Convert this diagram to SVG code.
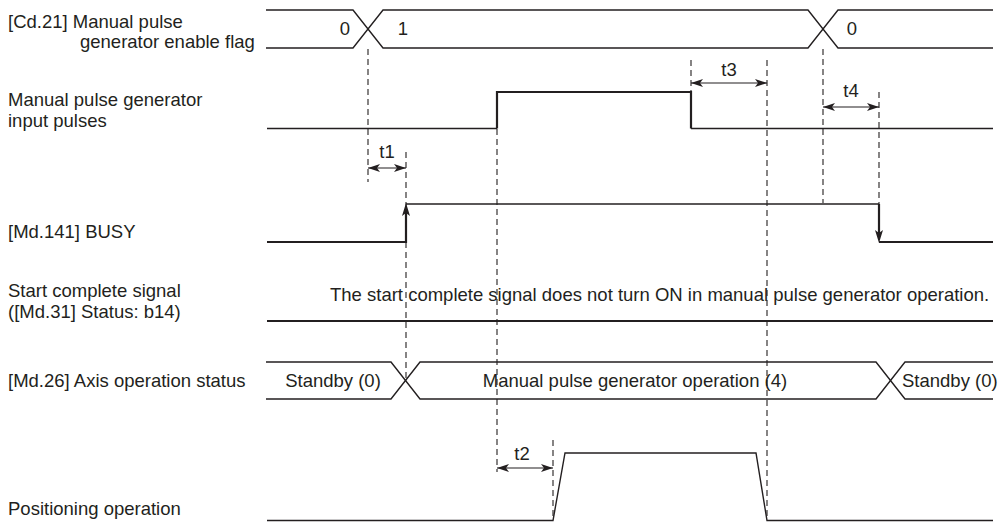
<svg xmlns="http://www.w3.org/2000/svg" width="999" height="523" viewBox="0 0 999 523">
<style>
text{font-family:"Liberation Sans",Arial,sans-serif;font-size:18.5px;fill:#231f20}
.sig{fill:none;stroke:#231f20;stroke-width:1.4}
.thick{fill:none;stroke:#231f20;stroke-width:2.2}
.dash{fill:none;stroke:#231f20;stroke-width:1.1;stroke-dasharray:6 4}
.dim{fill:none;stroke:#231f20;stroke-width:1.2;marker-start:url(#ah);marker-end:url(#ah)}
.mid{text-anchor:middle}
</style>
<defs>
<marker id="ah" viewBox="0 0 12 8" refX="12" refY="4" markerWidth="12" markerHeight="8" markerUnits="userSpaceOnUse" orient="auto-start-reverse">
<path d="M0,0 L12,4 L0,8 L3,4 z" fill="#231f20"/>
</marker>
</defs>
<rect width="999" height="523" fill="#fff"/>

<g id="enable-flag">
<text x="8" y="28">[Cd.21] Manual pulse</text>
<text x="80" y="48">generator enable flag</text>
<path class="sig" d="M266,10 H353 L383,48 H808 L838,10 H993"/>
<path class="sig" d="M266,48 H353 L383,10 H808 L838,48 H993"/>
<text class="mid" x="345" y="35">0</text>
<text class="mid" x="403" y="35">1</text>
<text class="mid" x="852" y="35">0</text>
</g>

<g id="input-pulses">
<text x="8" y="106">Manual pulse generator</text>
<text x="8" y="127">input pulses</text>
<path class="sig" d="M267,128.5 H497"/>
<path class="thick" d="M497,128.5 V92 H691 V128.5"/>
<path class="sig" d="M691,128.5 H993"/>
</g>

<g id="busy">
<text x="8" y="238">[Md.141] BUSY</text>
<path class="thick" d="M267,242 H406 V210"/>
<path class="sig" d="M406,204 H879"/>
<path class="thick" d="M879,204 V236"/>
<path class="thick" d="M879,242 H993"/>
<path d="M406,203 L410,216 L406,213 L402,216 z" fill="#231f20"/>
<path d="M879,243 L875,230 L879,233 L883,230 z" fill="#231f20"/>
</g>

<g id="start-complete">
<text x="8" y="297">Start complete signal</text>
<text x="8" y="318">([Md.31] Status: b14)</text>
<text x="330" y="301">The start complete signal does not turn ON in manual pulse generator operation.</text>
<path class="thick" d="M267,321 H993"/>
</g>

<g id="axis-status">
<text x="8" y="387">[Md.26] Axis operation status</text>
<path class="sig" d="M266,362 H391 L420,399 H876 L905,362 H993"/>
<path class="sig" d="M266,399 H391 L420,362 H876 L905,399 H993"/>
<text class="mid" x="333" y="387">Standby (0)</text>
<text class="mid" x="635" y="387">Manual pulse generator operation (4)</text>
<text x="902" y="387">Standby (0)</text>
</g>

<g id="positioning">
<text x="8" y="515">Positioning operation</text>
<path class="sig" d="M267,520.5 H553 L565,453 H756 L767,520.5 H993"/>
</g>

<g id="connectors">
<path class="dash" d="M368,49 V182"/>
<path class="dash" d="M406,152 V381"/>
<path class="dash" d="M497,129 V472"/>
<path class="dash" d="M553,440 V520"/>
<path class="dash" d="M691,60 V92"/>
<path class="dash" d="M767,60 V520"/>
<path class="dash" d="M823,49 V203"/>
<path class="dash" d="M879,92 V204"/>
<path class="dim" d="M368,168 H406"/>
<path class="dim" d="M691,83 H767"/>
<path class="dim" d="M823,107 H879"/>
<path class="dim" d="M497,468 H553"/>
<text class="mid" x="387" y="158">t1</text>
<text class="mid" x="729" y="76">t3</text>
<text class="mid" x="851" y="97">t4</text>
<text class="mid" x="522" y="460">t2</text>
</g>
</svg>
